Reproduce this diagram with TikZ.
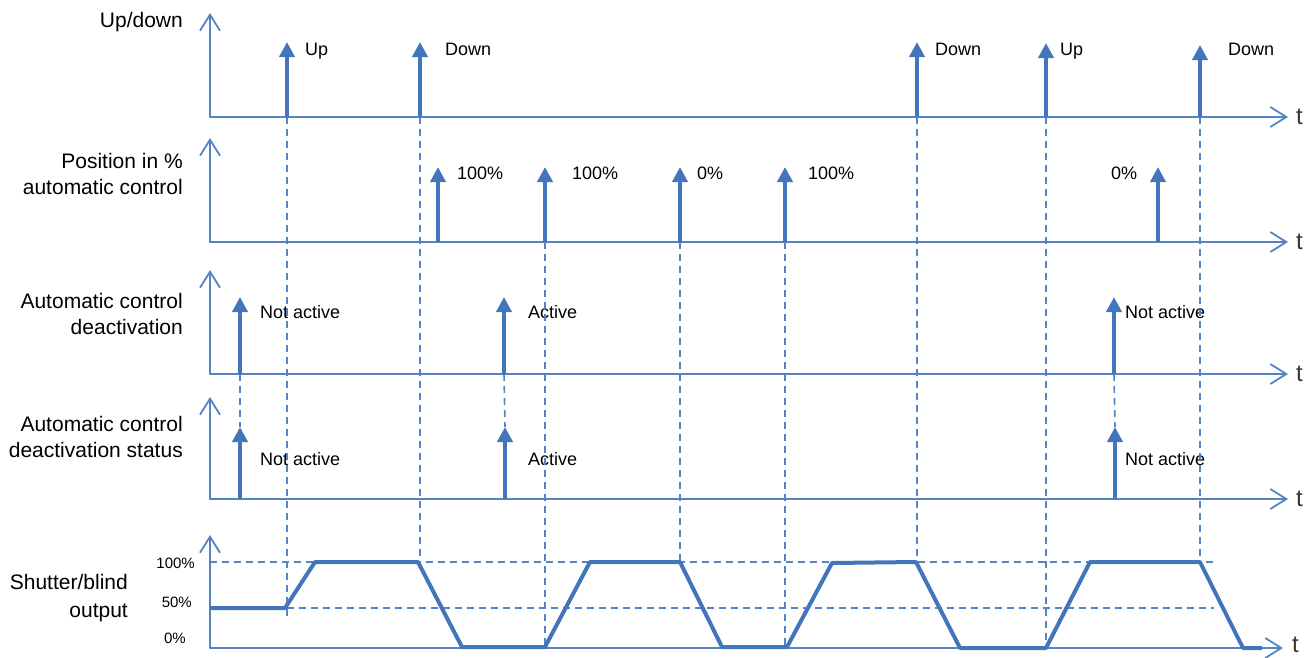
\documentclass[tikz,border=0pt]{standalone}
\usepackage{fontspec}
\setmainfont{Liberation Sans}
\usetikzlibrary{arrows.meta}
\definecolor{axisblue}{RGB}{84,132,196}
\definecolor{sigblue}{RGB}{66,117,185}
\definecolor{tgray}{RGB}{60,55,50}
\tikzset{
  axisline/.style={draw=axisblue, line width=1.8pt, line cap=round,
    -{Straight Barb[length=16pt,width=20pt]}},
  pulse/.style={draw=sigblue, line width=4pt, -{Triangle[length=15pt,width=15pt]}},
  guide/.style={draw=axisblue, line width=1.6pt, dash pattern=on 7pt off 5pt},
  outsig/.style={draw=sigblue, line width=4pt, line join=round},
  sidelbl/.style={anchor=east, inner sep=0pt, text height=15pt, text depth=0pt,
    font=\fontsize{21}{21}\selectfont},
  ann/.style={anchor=west, inner sep=0pt, text height=13pt, text depth=0pt,
    font=\fontsize{18}{18}\selectfont},
  pct/.style={anchor=east, inner sep=0pt, text height=10.8pt, text depth=0pt,
    font=\fontsize{15}{15}\selectfont},
  tlbl/.style={anchor=west, inner sep=0pt, text=tgray, font=\fontsize{24}{24}\selectfont},
}
\begin{document}
\begin{tikzpicture}[x=1pt, y=-1pt]
\useasboundingbox (0,0) rectangle (1310,657);

% ---------- axes ----------
\coordinate (o1) at (210,117); \coordinate (y1) at (210,13);  \coordinate (x1) at (1288,117);
\coordinate (o2) at (210,242); \coordinate (y2) at (210,138); \coordinate (x2) at (1288,242);
\coordinate (o3) at (210,374); \coordinate (y3) at (210,270); \coordinate (x3) at (1288,374);
\coordinate (o4) at (210,499); \coordinate (y4) at (210,397); \coordinate (x4) at (1288,499);
\coordinate (o5) at (210,648); \coordinate (y5) at (210,535); \coordinate (x5) at (1283,648);
\foreach \i in {1,...,5} {
  \draw[axisline] (o\i) -- (y\i);
  \draw[axisline] (o\i) -- (x\i);
}
\node[tlbl] (t1) at (1296,117) {t};
\node[tlbl] (t2) at (1296,242) {t};
\node[tlbl] (t3) at (1296,374) {t};
\node[tlbl] (t4) at (1296,499) {t};
\node[tlbl] (t5) at (1292,645) {t};

% ---------- row labels ----------
\node[sidelbl] (r1)  at (183,20)    {Up/down};
\node[sidelbl] (r2a) at (183,161)   {Position in \%};
\node[sidelbl] (r2b) at (183,186.5) {automatic control};
\node[sidelbl] (r3a) at (183,301)   {Automatic control};
\node[sidelbl] (r3b) at (183,326.5) {deactivation};
\node[sidelbl] (r4a) at (183,423.5) {Automatic control};
\node[sidelbl] (r4b) at (183,450)   {deactivation status};
\node[sidelbl] (r5a) at (128,582)   {Shutter/blind};
\node[sidelbl] (r5b) at (128,609.5) {output};
\node[pct] (p100) at (195,563) {100\%};
\node[pct] (p50)  at (192,602) {50\%};
\node[pct] (p0)   at (186,638) {0\%};

% ---------- up/down telegrams ----------
\coordinate (a1b) at (287,117);  \coordinate (a1t) at (287,42);
\coordinate (a2b) at (420,117);  \coordinate (a2t) at (420,42);
\coordinate (a3b) at (917,117);  \coordinate (a3t) at (917,42);
\coordinate (a4b) at (1046,117); \coordinate (a4t) at (1046,43);
\coordinate (a5b) at (1200,117); \coordinate (a5t) at (1200,45);
\foreach \i in {1,...,5} { \draw[pulse] (a\i b) -- (a\i t); }
\node[ann] (la1) at (305,49)  {Up};
\node[ann] (la2) at (445,49)  {Down};
\node[ann] (la3) at (935,49)  {Down};
\node[ann] (la4) at (1060,49) {Up};
\node[ann] (la5) at (1228,49) {Down};

% ---------- position telegrams ----------
\coordinate (b1b) at (438,242);  \coordinate (b1t) at (438,167);
\coordinate (b2b) at (545,242);  \coordinate (b2t) at (545,167);
\coordinate (b3b) at (680,242);  \coordinate (b3t) at (680,167);
\coordinate (b4b) at (785,242);  \coordinate (b4t) at (785,167);
\coordinate (b5b) at (1158,242); \coordinate (b5t) at (1158,167);
\foreach \i in {1,...,5} { \draw[pulse] (b\i b) -- (b\i t); }
\node[ann] (lb1) at (457,173)  {100\%};
\node[ann] (lb2) at (572,173)  {100\%};
\node[ann] (lb3) at (697,173)  {0\%};
\node[ann] (lb4) at (808,173)  {100\%};
\node[ann] (lb5) at (1111,173) {0\%};

% ---------- deactivation telegrams ----------
\coordinate (c1b) at (240,374);  \coordinate (c1t) at (240,297);
\coordinate (c2b) at (504,374);  \coordinate (c2t) at (504,297);
\coordinate (c3b) at (1114,374); \coordinate (c3t) at (1114,297);
\foreach \i in {1,2,3} { \draw[pulse] (c\i b) -- (c\i t); }
\node[ann] (lc1) at (260,311.5)  {Not active};
\node[ann] (lc2) at (528,311.5)  {Active};
\node[ann] (lc3) at (1125,311.5) {Not active};

% ---------- deactivation status ----------
\coordinate (d1b) at (240,499);  \coordinate (d1t) at (240,427);
\coordinate (d2b) at (505,499);  \coordinate (d2t) at (505,427);
\coordinate (d3b) at (1115,499); \coordinate (d3t) at (1115,427);
\foreach \i in {1,2,3} { \draw[pulse] (d\i b) -- (d\i t); }
\node[ann] (ld1) at (260,459)  {Not active};
\node[ann] (ld2) at (528,459)  {Active};
\node[ann] (ld3) at (1125,459) {Not active};

% ---------- output levels ----------
\coordinate (h100a) at (210,562); \coordinate (h100b) at (1214,562);
\coordinate (h50a)  at (287,608); \coordinate (h50b)  at (1214,608);
\draw[guide] (h100a) -- (h100b);
\draw[guide] (h50a) -- (h50b);

% ---------- dashed guides from events to output ----------
\coordinate (e1) at (287,618);
\coordinate (e2) at (420,562);
\coordinate (e3) at (545,647);
\coordinate (e4) at (680,562);
\coordinate (e5) at (785,647);
\coordinate (e6) at (917,562);
\coordinate (e7) at (1046,647);
\coordinate (e8) at (1200,562);
\draw[guide] (a1b) -- (e1);
\draw[guide] (a2b) -- (e2);
\draw[guide] (b2b) -- (e3);
\draw[guide] (b3b) -- (e4);
\draw[guide] (b4b) -- (e5);
\draw[guide] (a3b) -- (e6);
\draw[guide] (a4b) -- (e7);
\draw[guide] (a5b) -- (e8);
\draw[guide] (c1b) -- (d1t);
\draw[guide] (c2b) -- (d2t);
\draw[guide] (c3b) -- (d3t);

% ---------- shutter/blind output ----------
\draw[outsig] (210,608) -- (285,608) -- (315,562) -- (418,562) -- (462,647)
  -- (545,647) -- (590,562) -- (680,562) -- (722,647) -- (787,647)
  -- (832,563) -- (916,562) -- (960,648) -- (1046,648) -- (1090,562)
  -- (1200,562) -- (1243,648) -- (1262,648);
\end{tikzpicture}
\end{document}
